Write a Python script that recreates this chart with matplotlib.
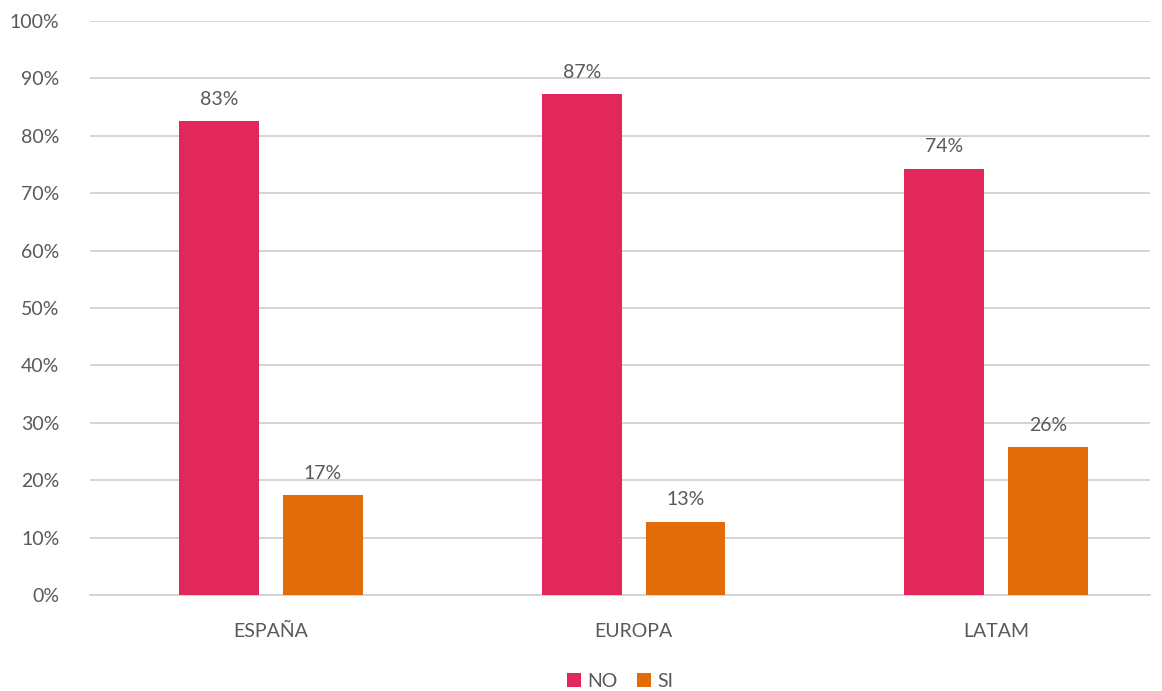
import matplotlib
matplotlib.use('Agg')
import matplotlib.pyplot as plt
import numpy as np
from matplotlib.ticker import PercentFormatter

plt.rcParams['font.family'] = ['Lato', 'DejaVu Sans']

regions = ['ESPAÑA', 'EUROPA', 'LATAM']
no_vals = [82.6, 87.2, 74.3]
si_vals = [17.4, 12.8, 25.7]
series_names = ['NO', 'SI']

no_color = '#E2275B'
si_color = '#E36C0A'
text_color = '#595959'

fig = plt.figure(figsize=(11.62, 6.91), dpi=100)
ax = fig.add_axes([90/1162, 1 - 595/691, (1150 - 90)/1162, (595 - 21)/691])

x = np.arange(len(regions))
w = 0.22
off = 0.143
b1 = ax.bar(x - off, no_vals, w, color=no_color, label=series_names[0], zorder=3)
b2 = ax.bar(x + off, si_vals, w, color=si_color, label=series_names[1], zorder=3)

# value labels above the bars
for bars in (b1, b2):
    for bar in bars:
        h = bar.get_height()
        ax.text(bar.get_x() + bar.get_width()/2, h + 2.3, '%d%%' % round(h),
                ha='center', va='bottom', fontsize=14, color=text_color)

ax.set_ylim(0, 100)
ax.set_yticks(np.arange(0, 101, 10))
ax.yaxis.set_major_formatter(PercentFormatter(decimals=0))
ax.set_xlim(-0.499, 2.424)
ax.set_xticks(x)
ax.set_xticklabels(regions)
ax.grid(axis='y', color='#D4D4D4', linewidth=1.4, zorder=0)
for s in ['top', 'right', 'left']:
    ax.spines[s].set_visible(False)
ax.spines['bottom'].set_color('#D4D4D4')
ax.spines['bottom'].set_linewidth(1.4)
ax.tick_params(axis='both', length=0, labelsize=14, colors=text_color)
ax.tick_params(axis='x', pad=20)
ax.tick_params(axis='y', pad=22)

ax.legend(loc='upper center', bbox_to_anchor=(0.5, -0.105), ncol=2, frameon=False,
          fontsize=14, labelcolor=text_color, handlelength=0.75, handleheight=0.75,
          handletextpad=0.3, columnspacing=1.0)

fig.savefig('out.png', dpi=100)
